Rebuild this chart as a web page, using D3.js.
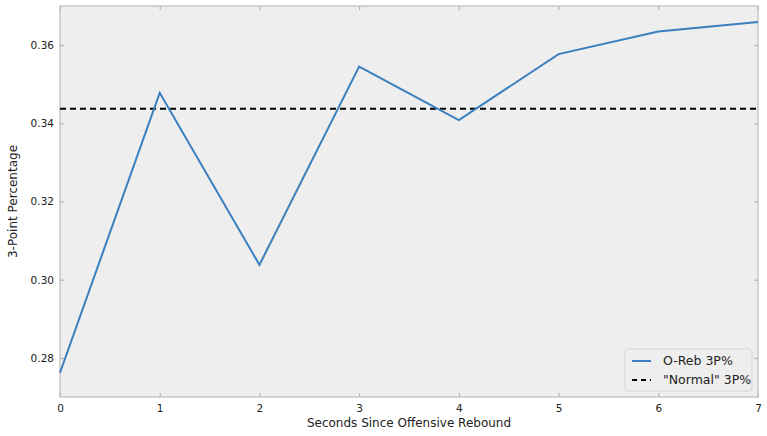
<!DOCTYPE html>
<html>
<head>
<meta charset="utf-8">
<script src="https://cdn.jsdelivr.net/npm/d3@7"></script>
<style>
  body { margin: 0; background: #fff; }
  text { font-family: "DejaVu Sans", sans-serif; fill: #222; }
</style>
</head>
<body>
<svg id="chart" width="767" height="436"></svg>
<script>
// seconds after the offensive rebound
const seconds = [0, 1, 2, 3, 4, 5, 6, 7];
// 3P% on shots taken that many seconds after an o-reb
const orebPct = [0.2762, 0.3478, 0.3038, 0.3545, 0.3408, 0.3577, 0.3635, 0.3659];
// league "normal" 3P%
const normalPct = 0.3437;
const yTicks = [0.28, 0.30, 0.32, 0.34, 0.36];
const legendLabels = ["O-Reb 3P%", "\"Normal\" 3P%"];

const svg = d3.select("#chart");
const margin = { top: 6, right: 9, bottom: 39, left: 60 };
const W = 767, H = 436;
const w = W - margin.left - margin.right;
const h = H - margin.top - margin.bottom;

const x = d3.scaleLinear().domain([0, 7]).range([0, w]);
const y = d3.scaleLinear().domain([0.27, 0.37]).range([h, 0]);

const g = svg.append("g").attr("transform", `translate(${margin.left},${margin.top})`);

g.append("rect").attr("width", w).attr("height", h).attr("fill", "#eeeeee");

// ticks (inward, on all four sides like the bmh style)
const tickLen = 4;
const styleAxis = sel => {
  sel.select(".domain").remove();
  sel.selectAll(".tick line").attr("stroke", "#999").attr("stroke-width", 0.8);
  sel.selectAll(".tick text").attr("font-size", 10.5).attr("fill", "#222")
    .style("font-family", "DejaVu Sans, sans-serif");
};

g.append("g").attr("transform", `translate(0,${h})`)
  .call(d3.axisBottom(x).tickValues(seconds).tickFormat(d3.format("d")).tickSizeInner(-tickLen).tickSizeOuter(0).tickPadding(8))
  .call(styleAxis);
g.append("g")
  .call(d3.axisTop(x).tickValues(seconds).tickFormat("").tickSizeInner(-tickLen).tickSizeOuter(0))
  .call(styleAxis);
g.append("g")
  .call(d3.axisLeft(y).tickValues(yTicks).tickFormat(d3.format(".2f")).tickSizeInner(-tickLen).tickSizeOuter(0).tickPadding(6))
  .call(styleAxis);
g.append("g").attr("transform", `translate(${w},0)`)
  .call(d3.axisRight(y).tickValues(yTicks).tickFormat("").tickSizeInner(-tickLen).tickSizeOuter(0))
  .call(styleAxis);

// frame
g.append("rect").attr("width", w).attr("height", h)
  .attr("fill", "none").attr("stroke", "#bcbcbc").attr("stroke-width", 1.2);

// normal line
g.append("line")
  .attr("x1", x(0)).attr("x2", x(7))
  .attr("y1", y(normalPct)).attr("y2", y(normalPct))
  .attr("stroke", "#000").attr("stroke-width", 2).attr("stroke-dasharray", "6,4");

// o-reb line
const line = d3.line().x((d, i) => x(seconds[i])).y(d => y(d));
g.append("path").datum(orebPct)
  .attr("d", line)
  .attr("fill", "none").attr("stroke", "#3a7fbf").attr("stroke-width", 2);

// axis labels
svg.append("text")
  .attr("x", margin.left + w / 2).attr("y", 427)
  .attr("text-anchor", "middle").attr("font-size", 12)
  .text("Seconds Since Offensive Rebound");
svg.append("text")
  .attr("transform", `translate(17,${margin.top + h / 2}) rotate(-90)`)
  .attr("text-anchor", "middle").attr("font-size", 12)
  .text("3-Point Percentage");

// legend
const lg = svg.append("g").attr("transform", "translate(625,349)");
lg.append("rect").attr("width", 127).attr("height", 42).attr("rx", 3)
  .attr("fill", "#eeeeee").attr("fill-opacity", 0.8)
  .attr("stroke", "#d4d4d4").attr("stroke-width", 1);
const swatches = [
  { color: "#3a7fbf", dash: null },
  { color: "#000", dash: "5,4" }
];
legendLabels.forEach((lab, i) => {
  const yy = 12 + i * 19;
  lg.append("line").attr("x1", 7).attr("x2", 26).attr("y1", yy).attr("y2", yy)
    .attr("stroke", swatches[i].color).attr("stroke-width", 2)
    .attr("stroke-dasharray", swatches[i].dash);
  lg.append("text").attr("x", 38).attr("y", yy + 4).attr("font-size", 12.5).text(lab);
});
</script>
</body>
</html>
